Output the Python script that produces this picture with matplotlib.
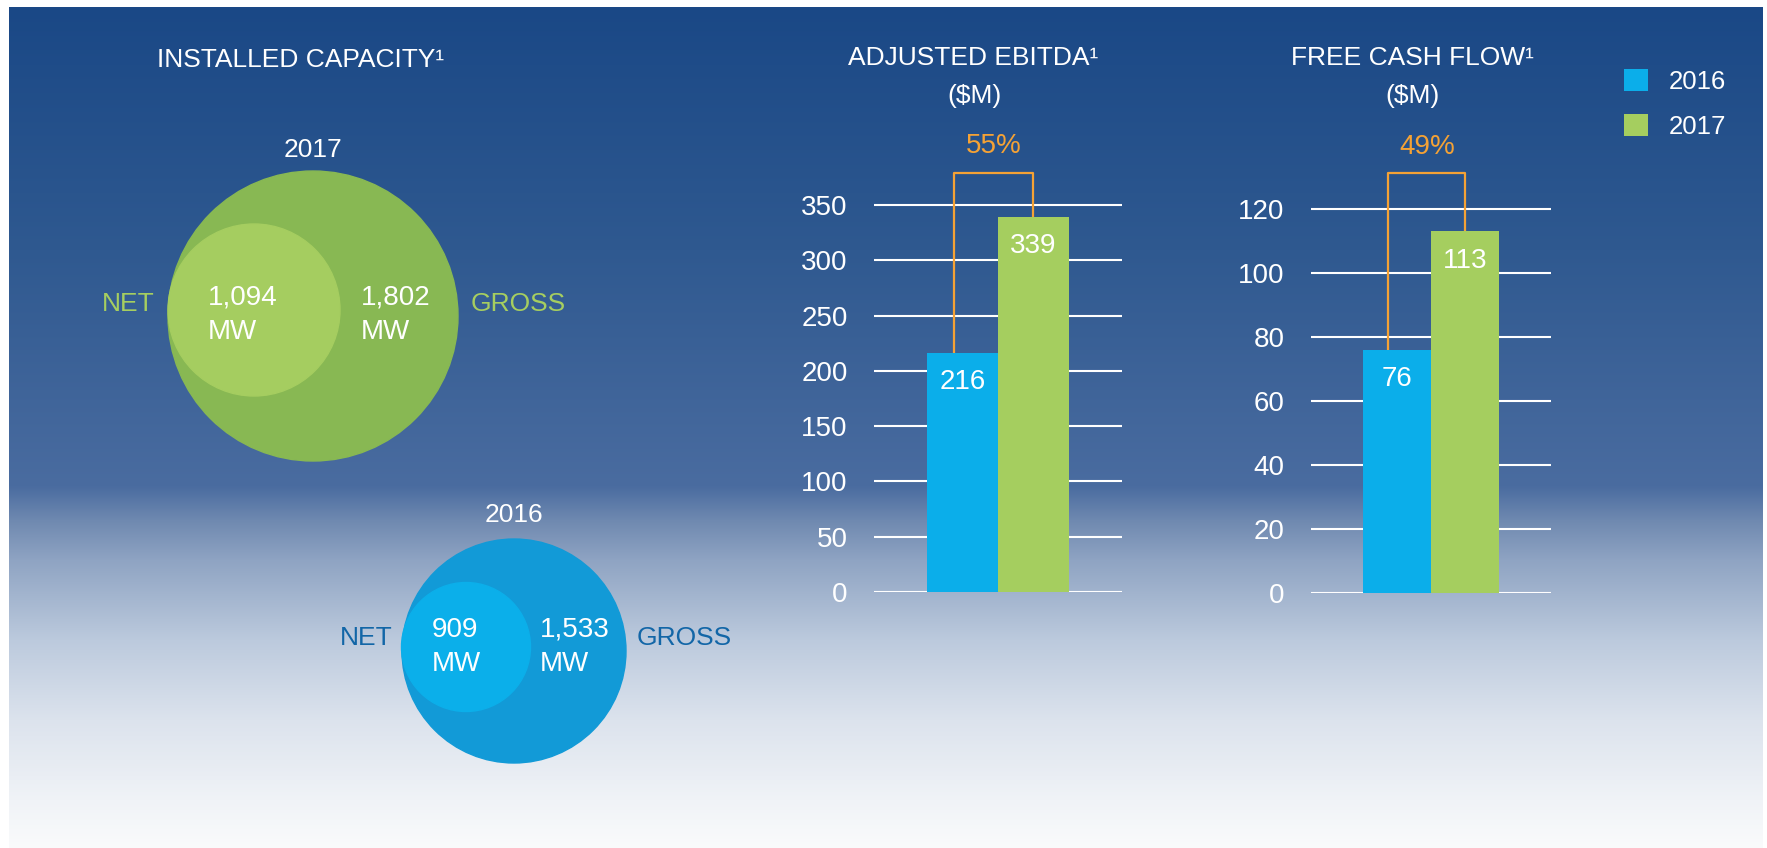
import numpy as np
import matplotlib
matplotlib.use("Agg")
import matplotlib.pyplot as plt
from matplotlib.colors import to_rgb
from matplotlib.patches import Circle

plt.rcParams["font.family"] = ["Liberation Sans", "DejaVu Sans"]

# data
years = ["2016", "2017"]
net_mw = [909, 1094]
gross_mw = [1533, 1802]
ebitda = [216, 339]
fcf = [76, 113]
ebitda_ticks = [0, 50, 100, 150, 200, 250, 300, 350]
fcf_ticks = [0, 20, 40, 60, 80, 100, 120]
growth_labels = ["55%", "49%"]

BLUE = "#0BAEEA"
GREEN = "#A5CE5F"
ORANGE = "#F5A235"
W, H = 1767, 848

fig = plt.figure(figsize=(W / 100, H / 100), dpi=100)
bg = fig.add_axes([0, 0, 1, 1])
bg.axis("off")

# background gradient (dark blue -> white)
stops_y = [7, 250, 486, 520, 560, 640, 720, 800, 848]
stops_c = ["#1a4886", "#2f5990", "#4a6ca0", "#6f89b0", "#8fa4c3",
           "#bccadd", "#dce3ed", "#f0f3f7", "#fafbfc"]
yy = np.arange(7, H)
rgb = np.array([to_rgb(c) for c in stops_c])
grad = np.stack([np.interp(yy, stops_y, rgb[:, k]) for k in range(3)], axis=-1)[:, None, :]
bg.imshow(grad, extent=(9, W - 5, H, 7), aspect="auto", zorder=0)
bg.set_xlim(0, W)
bg.set_ylim(H, 0)

# installed capacity circles (layout in pixels)
bg.text(301, 60, "INSTALLED CAPACITY¹", ha="center", va="center", color="white", fontsize=19)

circle_layout = {
    "2017": dict(outer=(313, 316, 145), inner=(254, 310, 86), colors=("#88B853", "#A5CD60"),
                 label="#A6CE60", year_y=150, net_x=155, val_y=315, label_y=304,
                 net_vx=208, gross_vx=361, gross_x=471),
    "2016": dict(outer=(514, 651, 112), inner=(466, 647, 64.5), colors=("#129AD7", "#0BAFEA"),
                 label="#1266A7", year_y=515, net_x=393, val_y=647, label_y=638,
                 net_vx=432, gross_vx=540, gross_x=637),
}
for yr, net, gross in zip(years, net_mw, gross_mw):
    c = circle_layout[yr]
    ox, oy, orad = c["outer"]
    ix, iy, irad = c["inner"]
    bg.add_patch(Circle((ox, oy), orad, color=c["colors"][0], zorder=2))
    bg.add_patch(Circle((ix, iy), irad, color=c["colors"][1], zorder=3))
    bg.text(ox, c["year_y"], yr, ha="center", va="center", color="white", fontsize=19)
    bg.text(c["net_x"], c["label_y"], "NET", ha="right", va="center", color=c["label"], fontsize=19)
    bg.text(c["gross_x"], c["label_y"], "GROSS", ha="left", va="center", color=c["label"], fontsize=19)
    bg.text(c["net_vx"], c["val_y"], f"{net:,}\nMW", ha="left", va="center", color="white",
            fontsize=20, linespacing=1.4, zorder=4)
    bg.text(c["gross_vx"], c["val_y"], f"{gross:,}\nMW", ha="left", va="center", color="white",
            fontsize=20, linespacing=1.4, zorder=4)


def bar_panel(rect, values, ticks, top, growth):
    ax = fig.add_axes(rect)
    ax.set_facecolor("none")
    x = [-0.285, 0.285]
    bars = ax.bar(x, values, width=0.57, color=[BLUE, GREEN], zorder=3)
    ax.set_xlim(-1, 1)
    ax.set_ylim(0, top)
    ax.set_yticks(ticks)
    ax.set_xticks([])
    ax.set_axisbelow(True)
    ax.yaxis.grid(True, color="white", lw=1.5)
    for s in ax.spines.values():
        s.set_visible(False)
    ax.tick_params(axis="y", length=0, pad=19, labelsize=20, labelcolor="white")
    for xi, v in zip(x, values):
        ax.annotate(str(v), (xi, v), xytext=(0, -21), textcoords="offset points",
                    ha="center", va="center", color="white", fontsize=20, zorder=4)
    bt = top * 0.972
    lx = x[0] - 0.07
    ax.plot([lx, lx, x[1], x[1]], [values[0], bt, bt, values[1]], color=ORANGE, lw=1.6,
            clip_on=False, zorder=2)
    ax.annotate(growth, ((lx + x[1]) / 2, bt), xytext=(0, 19), textcoords="offset points",
                ha="center", va="center", color=ORANGE, fontsize=20, annotation_clip=False)
    return bars


bars = bar_panel([874 / W, (H - 592) / H, 248 / W, 431.2 / H], ebitda, ebitda_ticks, 390, growth_labels[0])
bar_panel([1311 / W, (H - 593) / H, 240 / W, 432 / H], fcf, fcf_ticks, 135, growth_labels[1])

bg.text(973, 58, "ADJUSTED EBITDA¹", ha="center", va="center", color="white", fontsize=19)
bg.text(974, 96, "($M)", ha="center", va="center", color="white", fontsize=19)
bg.text(1412, 58, "FREE CASH FLOW¹", ha="center", va="center", color="white", fontsize=19)
bg.text(1412, 96, "($M)", ha="center", va="center", color="white", fontsize=19)

fig.legend(bars.patches, years, loc="upper left", bbox_to_anchor=(1624 / W, 1 - 69 / H),
           frameon=False, fontsize=18.5, handlelength=0.94, handleheight=0.94,
           handletextpad=0.82, labelspacing=0.8, borderpad=0, borderaxespad=0,
           labelcolor="white")

fig.savefig("out.png", dpi=100)
